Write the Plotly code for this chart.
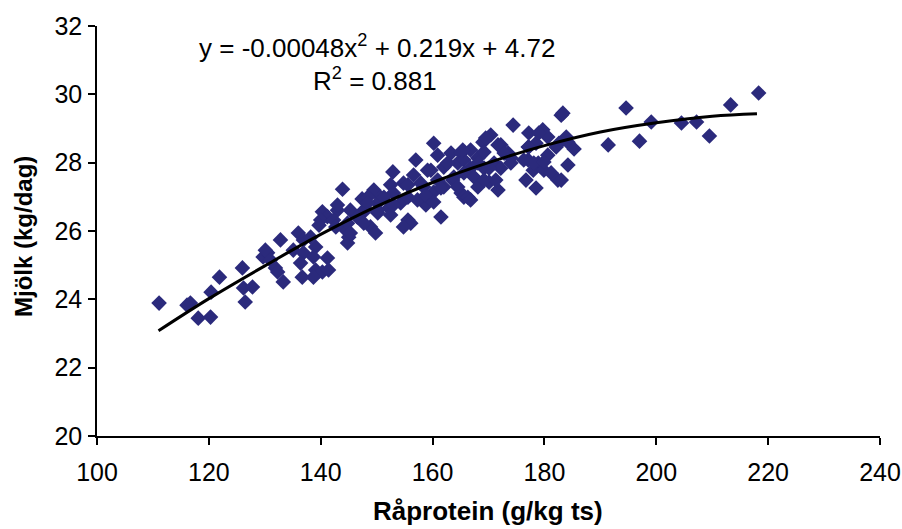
import plotly.graph_objects as go

# Råprotein (g/kg ts) and Mjölk (kg/dag) readings
raprotein = [
    111.1, 116.7, 116.1, 118.1, 120.3, 120.4, 121.9, 126.0, 126.2, 127.8,
    126.5, 129.7, 130.5, 143.9, 147.4, 143.0, 140.3, 141.2, 140.0, 139.7,
    142.3, 144.1, 145.0, 144.8, 147.7, 146.5, 136.0, 132.8, 136.9, 138.2,
    139.1, 135.1, 136.9, 138.7, 141.2, 130.1, 131.0, 131.9, 136.4, 132.3,
    139.1, 140.3, 141.4, 138.7, 136.7, 133.3, 160.2, 160.9, 163.3, 165.1,
    157.0, 152.9, 154.8, 152.5, 149.5, 150.7, 153.0, 156.6, 159.1, 162.0,
    164.5, 165.6, 158.4, 160.2, 162.0, 163.6, 165.1, 165.6, 158.8, 157.3,
    154.3, 152.2, 150.2, 148.4, 148.0, 150.2, 152.5, 148.9, 149.8, 155.6,
    156.1, 161.5, 154.8, 174.4, 183.0, 170.4, 169.0, 172.2, 177.2, 179.7,
    180.6, 178.5, 182.6, 184.2, 177.1, 166.8, 168.1, 173.5, 174.0, 171.0,
    172.2, 169.2, 166.8, 165.6, 167.4, 177.1, 178.9, 178.0, 179.9, 181.2,
    182.4, 178.5, 170.1, 171.7, 168.1, 166.3, 166.8, 184.2, 180.6, 218.3,
    213.3, 194.6, 183.3, 199.1, 204.5, 207.2, 209.5, 197.0, 191.4, 185.3,
    183.9, 183.0, 151.3, 155.6, 148.4, 145.3, 143.0, 150.2, 153.0, 146.6,
    144.8, 147.7, 142.7, 145.3, 165.4, 162.7, 159.7, 155.6, 157.9, 160.9,
    163.8, 161.5, 164.5, 158.8, 160.2, 169.5, 171.7, 169.2, 172.8, 179.0,
    177.2, 176.3, 178.1, 168.1, 170.1, 174.0, 169.2, 171.3, 176.7, 182.1,
    179.9,
]
mjolk = [
    23.89, 23.89, 23.83, 23.45, 23.48, 24.21, 24.65, 24.92, 24.33, 24.36,
    23.92, 25.24, 25.36, 27.22, 26.94, 26.61, 26.56, 26.42, 26.32, 26.17,
    26.32, 26.09, 25.82, 25.65, 26.61, 26.42, 25.94, 25.74, 25.74, 25.82,
    25.53, 25.44, 25.36, 25.24, 25.21, 25.44, 25.15, 24.92, 25.06, 24.80,
    24.86, 24.80, 24.86, 24.65, 24.65, 24.51, 28.57, 28.22, 28.28, 28.28,
    28.08, 27.73, 27.40, 27.35, 27.20, 26.99, 27.11, 27.64, 27.78, 27.87,
    27.99, 28.08, 27.29, 27.14, 27.29, 27.49, 27.11, 26.99, 26.76, 26.91,
    26.82, 26.67, 26.82, 26.99, 26.61, 26.53, 26.47, 26.12, 25.94, 26.32,
    26.23, 26.41, 26.12, 29.10, 29.39, 28.81, 28.60, 28.52, 28.87, 28.96,
    28.75, 28.57, 28.57, 28.60, 28.46, 28.37, 28.14, 28.28, 28.14, 27.99,
    27.84, 27.84, 27.84, 27.70, 27.58, 28.08, 27.99, 27.78, 27.78, 27.70,
    27.49, 27.26, 27.43, 27.20, 27.29, 26.99, 26.91, 27.93, 28.22, 30.04,
    29.69, 29.60, 29.45, 29.19, 29.16, 29.19, 28.78, 28.63, 28.52, 28.40,
    28.75, 27.49, 26.99, 26.99, 26.82, 26.61, 26.76, 26.61, 26.76, 26.41,
    26.23, 26.23, 26.12, 25.94, 28.37, 27.99, 27.78, 27.35, 27.40, 27.49,
    27.58, 27.26, 27.29, 27.05, 26.85, 28.72, 28.52, 28.31, 28.28, 28.87,
    28.46, 28.08, 27.99, 27.99, 27.84, 27.99, 27.49, 27.49, 27.49, 28.46,
    28.02,
]

# Trend line
trend_x = [111, 120, 130, 140, 150, 160, 170, 180, 190, 200, 210, 218]
trend_y = [23.08, 24.02, 24.98, 25.90, 26.72, 27.42, 28.00, 28.50, 28.90, 29.17, 29.36, 29.43]

x_ticks = [100, 120, 140, 160, 180, 200, 220, 240]
y_ticks = [20, 22, 24, 26, 28, 30, 32]

FONT = "Liberation Sans"
W, H = 902, 529
L, R, T, B = 97, 22, 26, 93
PW, PH = W - L - R, H - T - B

def px_x(p):
    return (p - L) / PW

def px_y(p):
    return 1.0 - (p - T) / PH

fig = go.Figure()
fig.add_trace(go.Scatter(
    x=raprotein, y=mjolk, mode="markers",
    marker=dict(symbol="diamond", size=12, color="#2b2a7c", line=dict(width=0)),
    showlegend=False, hoverinfo="x+y",
))
fig.add_trace(go.Scatter(
    x=trend_x, y=trend_y, mode="lines",
    line=dict(color="black", width=3, shape="spline"),
    showlegend=False, hoverinfo="skip",
))

fig.add_annotation(
    text="y = -0.00048x<sup>2</sup> + 0.219x + 4.72",
    x=px_x(377), y=px_y(46), xref="paper", yref="paper", showarrow=False,
    font=dict(family=FONT, size=26, color="black"), xanchor="center", yanchor="middle",
)
fig.add_annotation(
    text="R<sup>2</sup> = 0.881",
    x=px_x(375), y=px_y(79), xref="paper", yref="paper", showarrow=False,
    font=dict(family=FONT, size=26, color="black"), xanchor="center", yanchor="middle",
)
# axis titles
fig.add_annotation(
    text="<b>Råprotein (g/kg ts)</b>",
    x=px_x(488), y=px_y(528), xref="paper", yref="paper", showarrow=False,
    font=dict(family=FONT, size=26, color="black"), xanchor="center", yanchor="bottom",
)
fig.add_annotation(
    text="<b>Mjölk (kg/dag)</b>", textangle=-90,
    x=px_x(23), y=px_y(237), xref="paper", yref="paper", showarrow=False,
    font=dict(family=FONT, size=24, color="black"), xanchor="center", yanchor="middle",
)

fig.update_layout(
    width=W, height=H,
    margin=dict(l=L, r=R, t=T, b=B, autoexpand=False),
    paper_bgcolor="white", plot_bgcolor="white",
    font=dict(family=FONT, color="black"),
    xaxis=dict(
        range=[100, 240], tickvals=x_ticks, ticktext=[str(v) for v in x_ticks],
        showgrid=False, zeroline=False, showline=True, linecolor="black", linewidth=1.5,
        ticks="outside", ticklen=7, tickwidth=1.5, tickcolor="black",
        tickfont=dict(size=25, family=FONT), ticklabelstandoff=6, automargin=False,
    ),
    yaxis=dict(
        range=[20, 32], tickvals=y_ticks, ticktext=[str(v) for v in y_ticks],
        showgrid=False, zeroline=False, showline=True, linecolor="black", linewidth=1.5,
        ticks="outside", ticklen=7, tickwidth=1.5, tickcolor="black",
        tickfont=dict(size=25, family=FONT), ticklabelstandoff=1, automargin=False,
    ),
)

fig.write_html(
    "out.html",
    config={"displayModeBar": False},
    post_script="document.body.style.margin='0';document.body.style.overflow='hidden';",
)
